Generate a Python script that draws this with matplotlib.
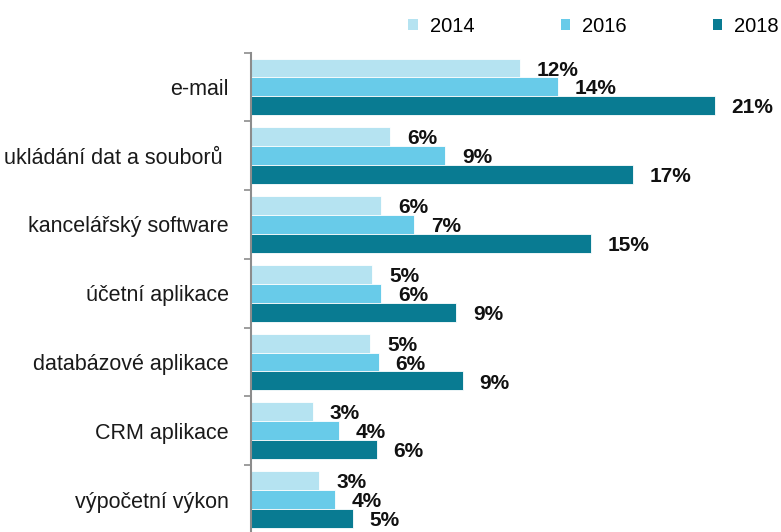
import matplotlib
matplotlib.use('Agg')
import matplotlib.pyplot as plt
import numpy as np
from matplotlib.patches import Patch

plt.rcParams['font.family'] = ['Liberation Sans', 'DejaVu Sans']

# data (share of firms, %)
categories = ['e-mail', 'ukládání dat a souborů ', 'kancelářský software',
              'účetní aplikace', 'databázové aplikace', 'CRM aplikace',
              'výpočetní výkon']
years = ['2014', '2016', '2018']
v2014 = [12.2, 6.3, 5.9, 5.5, 5.4, 2.8, 3.1]
v2016 = [13.9, 8.8, 7.4, 5.9, 5.8, 4.0, 3.8]
v2018 = [21.0, 17.3, 15.4, 9.3, 9.6, 5.7, 4.6]
lab2014 = ['12%', '6%', '6%', '5%', '5%', '3%', '3%']
lab2016 = ['14%', '9%', '7%', '6%', '6%', '4%', '4%']
lab2018 = ['21%', '17%', '15%', '9%', '9%', '6%', '5%']

colors = ['#b5e3f1', '#68cbe9', '#097b92']

fig = plt.figure(figsize=(7.81, 5.32), dpi=100)
# axis runs past the bottom edge, as in the original
ax = fig.add_axes([251 / 781, -2 / 532, 530 / 781, 481.5 / 532])

y = np.arange(len(categories))
h = 0.275
series = [v2014, v2016, v2018]
labels = [lab2014, lab2016, lab2018]
for k, (vals, labs) in enumerate(zip(series, labels)):
    pos = y + (k - 1) * h
    ax.barh(pos, vals, height=h, color=colors[k], edgecolor='white', linewidth=0.6)
    for p, v, t in zip(pos, vals, labs):
        ax.annotate(t, (v, p), xytext=(12, -1.5), textcoords='offset points',
                    ha='left', va='center', fontsize=15, fontweight='bold',
                    color='#111111')

ax.set_xlim(0, 24)
ax.set_ylim(len(categories) - 0.5, -0.5)
ax.set_yticks(y)
ax.set_yticklabels(categories, fontsize=15.5, color='#1a1a1a')
ax.tick_params(axis='y', which='major', length=0, pad=16)
ax.set_yticks(np.arange(len(categories) + 1) - 0.5, minor=True)
ax.tick_params(axis='y', which='minor', length=5, width=1.2, color='#8c8c8c')
ax.set_xticks([])
for s in ['top', 'right', 'bottom']:
    ax.spines[s].set_visible(False)
ax.spines['left'].set_color('#8c8c8c')
ax.spines['left'].set_linewidth(1.5)

handles = [Patch(facecolor=c, edgecolor='none', label=l) for c, l in zip(colors, years)]
fig.legend(handles=handles, loc='center right', bbox_to_anchor=(779 / 781, 1 - 26 / 532),
           ncol=3, frameon=False, fontsize=14.5, handlelength=0.45, handleheight=0.45,
           handletextpad=0.6, columnspacing=4.3, borderaxespad=0, borderpad=0)

fig.savefig('out.png', dpi=100)
